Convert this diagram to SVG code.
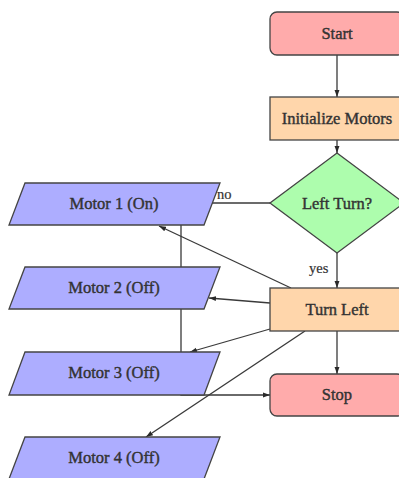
<svg xmlns="http://www.w3.org/2000/svg" width="399" height="478" viewBox="0 0 399 478">
  <style>
    .node { stroke: #444; stroke-width: 1.3; }
    .term { fill: #ffabab; }
    .proc { fill: #ffd6ab; }
    .dec  { fill: #adfdad; }
    .io   { fill: #adadff; }
    .lbl  { font-family: "Liberation Serif", "DejaVu Serif", serif; font-size: 16.5px; fill: #333; stroke: #333; stroke-width: 0.4; text-anchor: middle; dominant-baseline: central; }
    .small { font-family: "Liberation Serif", "DejaVu Serif", serif; font-size: 14.5px; fill: #333; stroke: #333; stroke-width: 0.2; }
    .edge { fill: none; stroke: #3a3a3a; stroke-width: 1.3; }
  </style>
  <defs>
    <marker id="arrow" viewBox="0 0 10 10" refX="10" refY="5" markerWidth="7" markerHeight="7" markerUnits="userSpaceOnUse" orient="auto">
      <path d="M0,1.5 L10,5 L0,8.5 z" fill="#2a2a2a"/>
    </marker>
  </defs>
  <rect width="399" height="478" fill="#ffffff"/>

  <g id="connectors">
    <line class="edge" x1="337" y1="55" x2="337" y2="97" marker-end="url(#arrow)"/>
    <line class="edge" x1="337" y1="140" x2="337" y2="153" marker-end="url(#arrow)"/>
    <line class="edge" x1="270" y1="203" x2="212" y2="203"/>
    <line class="edge" x1="337" y1="253" x2="337" y2="288" marker-end="url(#arrow)"/>
    <line class="edge" x1="337" y1="331" x2="337" y2="374" marker-end="url(#arrow)"/>
    <path class="edge" d="M181,225 V395 H270" marker-end="url(#arrow)"/>
    <line class="edge" x1="291" y1="288" x2="159" y2="226" marker-end="url(#arrow)"/>
    <line class="edge" x1="270" y1="303" x2="209" y2="298" marker-end="url(#arrow)"/>
    <line class="edge" x1="270" y1="329" x2="190" y2="352" marker-end="url(#arrow)"/>
    <line class="edge" x1="305" y1="331" x2="146" y2="437" marker-end="url(#arrow)"/>
    <text class="small" x="217" y="199">no</text>
    <text class="small" x="309" y="273">yes</text>
  </g>

  <g id="start">
    <rect class="node term" x="270" y="12" width="134" height="43" rx="7"/>
    <text class="lbl" x="337" y="33">Start</text>
  </g>
  <g id="init">
    <rect class="node proc" x="270" y="97" width="134" height="43"/>
    <text class="lbl" x="337" y="118">Initialize Motors</text>
  </g>
  <g id="decision">
    <polygon class="node dec" points="337,153 404,203 337,253 270,203"/>
    <text class="lbl" x="337" y="203">Left Turn?</text>
  </g>
  <g id="motor1">
    <polygon class="node io" points="25,183 220,183 204,225 9,225"/>
    <text class="lbl" x="114" y="203">Motor 1 (On)</text>
  </g>
  <g id="motor2">
    <polygon class="node io" points="25,267 220,267 204,309 9,309"/>
    <text class="lbl" x="114" y="287">Motor 2 (Off)</text>
  </g>
  <g id="motor3">
    <polygon class="node io" points="25,352 220,352 204,395 9,395"/>
    <text class="lbl" x="114" y="372">Motor 3 (Off)</text>
  </g>
  <g id="motor4">
    <polygon class="node io" points="25,437 220,437 204,479 9,479"/>
    <text class="lbl" x="114" y="457">Motor 4 (Off)</text>
  </g>
  <g id="turnleft">
    <rect class="node proc" x="270" y="288" width="134" height="43"/>
    <text class="lbl" x="337" y="309">Turn Left</text>
  </g>
  <g id="stop">
    <rect class="node term" x="270" y="374" width="134" height="42" rx="7"/>
    <text class="lbl" x="337" y="394">Stop</text>
  </g>
</svg>
